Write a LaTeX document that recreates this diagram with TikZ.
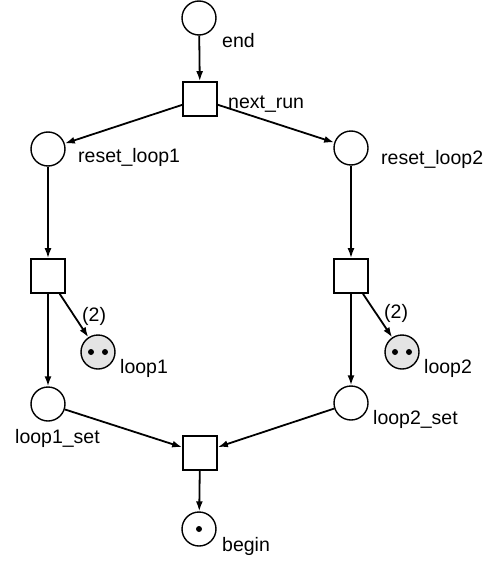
\documentclass[tikz,border=0pt]{standalone}
\usepackage{fontspec}
\setmainfont{Liberation Sans}
\definecolor{TokenGrey}{RGB}{228,228,228}
\usetikzlibrary{arrows.meta}

\begin{document}
\begin{tikzpicture}[x=1pt, y=-1pt,
    place/.style={circle, draw, line width=1.4pt, minimum size=34pt, inner sep=0pt},
    marked/.style={place, fill=TokenGrey},
    transition/.style={rectangle, draw, line width=1.7pt, minimum size=34pt, inner sep=0pt},
    arc/.style={line width=1.8pt, -{Latex[length=10pt, width=7pt]}},
    token/.style={circle, fill=black, inner sep=0pt, minimum size=6pt},
    tag/.style={font=\fontsize{19.5}{22}\selectfont, inner sep=0pt, anchor=base west}]
      \useasboundingbox (0,0) rectangle (484,562);

      % places
      \node[place] (end) at (199,18) {};
      \node[place] (rst1) at (48,149) {};
      \node[place] (rst2) at (351,148) {};
      \node[marked] (loop1) at (98,352) {};
      \node[marked] (loop2) at (402,352) {};
      \node[place] (set1) at (48,404) {};
      \node[place] (set2) at (351,403) {};
      \node[place] (begin) at (199,529) {};

      % tokens
      \node[token] (tok1a) at (91,352) {};
      \node[token] (tok1b) at (105,352) {};
      \node[token] (tok2a) at (395,352) {};
      \node[token] (tok2b) at (409,352) {};
      \node[token] (tokb) at (199,529) {};

      % transitions
      \node[transition] (next) at (200,99) {};
      \node[transition] (tr1) at (48,276) {};
      \node[transition] (tr2) at (351,276) {};
      \node[transition] (join) at (200,453) {};

      % names
      \node[tag] (endlbl) at (222,47) {end};
      \node[tag] (nextlbl) at (228,108) {next\_run};
      \node[tag] (rst1lbl) at (78,162) {reset\_loop1};
      \node[tag] (rst2lbl) at (381,164) {reset\_loop2};
      \node[tag] (loop1lbl) at (120,373) {loop1};
      \node[tag] (loop2lbl) at (424,373) {loop2};
      \node[tag] (set1lbl) at (15,443) {loop1\_set};
      \node[tag] (set2lbl) at (373,424) {loop2\_set};
      \node[tag] (beginlbl) at (222,551) {begin};

      % arc weights
      \node[tag] (w1) at (82,321) {(2)};
      \node[tag] (w2) at (384,318) {(2)};

      % arcs
      \draw[arc] (end) -- (next);
      \draw[arc] (next) -- (rst1);
      \draw[arc] (next) -- (rst2);
      \draw[arc] (rst1) -- (tr1);
      \draw[arc] (rst2) -- (tr2);
      \draw[arc] (tr1) -- (loop1);
      \draw[arc] (tr2) -- (loop2);
      \draw[arc] (tr1) -- (set1);
      \draw[arc] (tr2) -- (set2);
      \draw[arc] (set1) -- (join);
      \draw[arc] (set2) -- (join);
      \draw[arc] (join) -- (begin);

    \end{tikzpicture}
\end{document}
